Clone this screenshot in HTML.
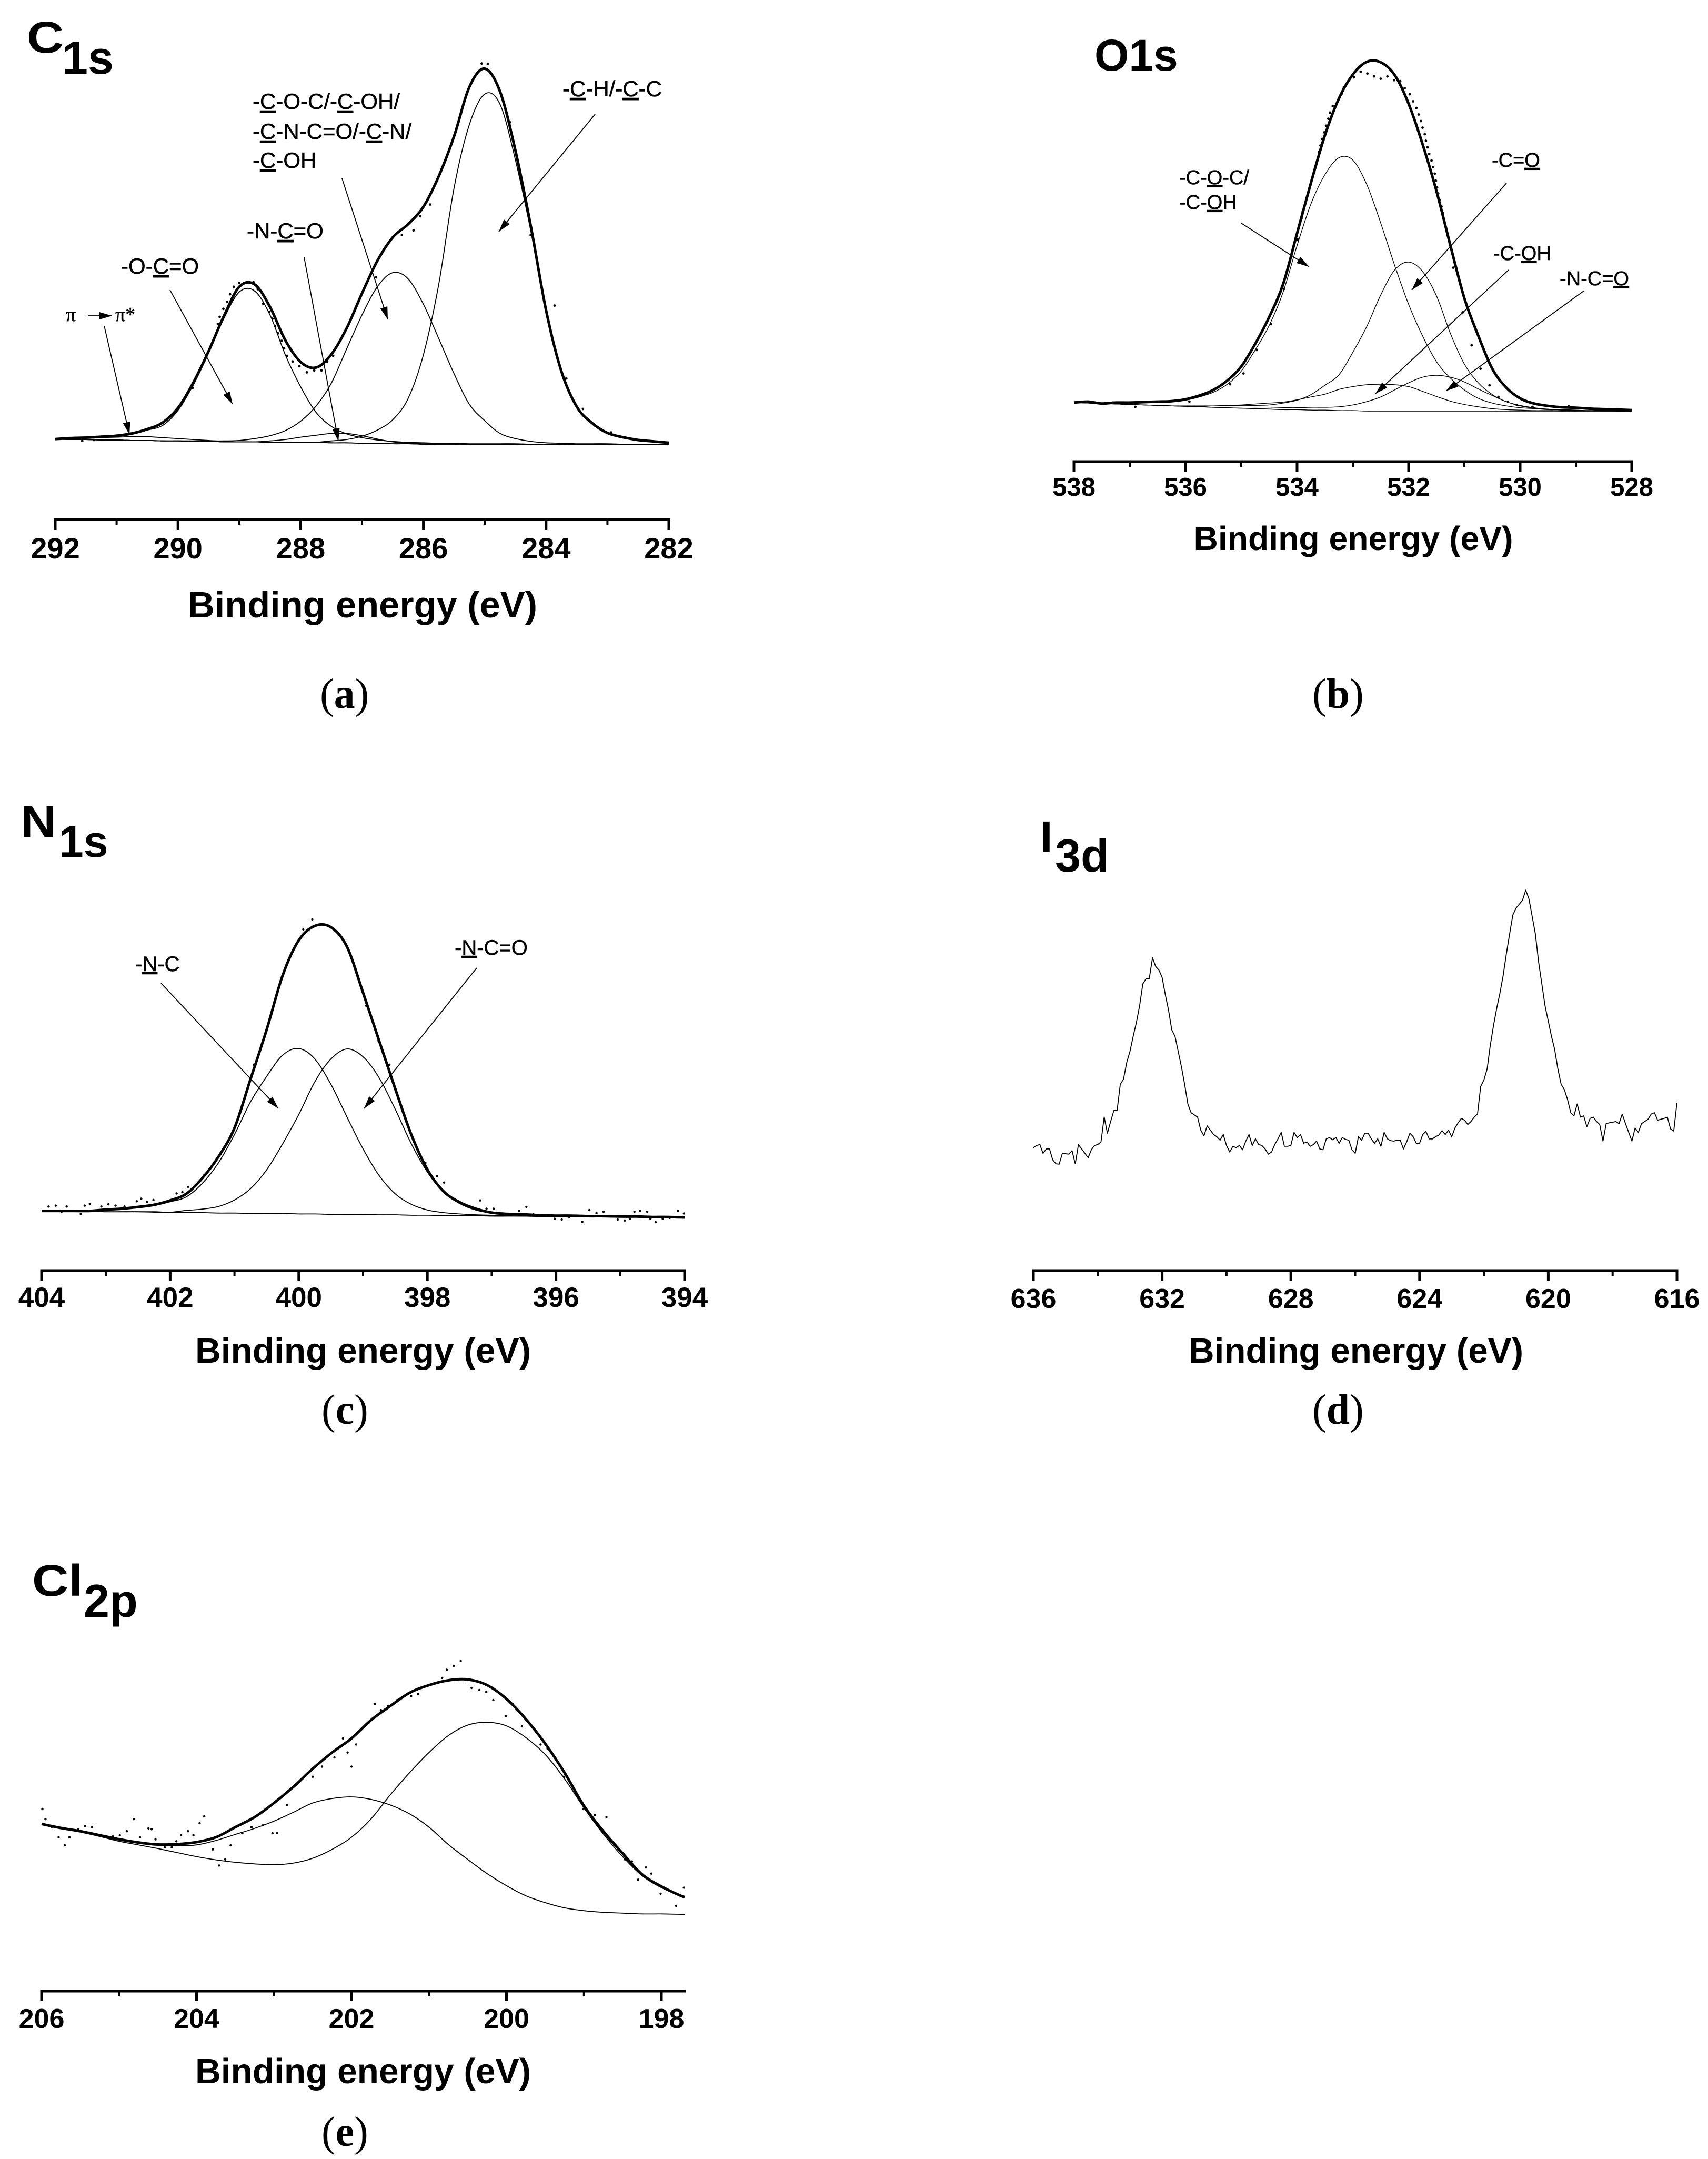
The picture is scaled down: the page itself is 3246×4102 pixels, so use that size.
<!DOCTYPE html>
<html lang="en">
<head>
<meta charset="utf-8">
<title>XPS spectra: C1s, O1s, N1s, I3d, Cl2p</title>
<style>
html,body{margin:0;padding:0;background:#fff;}
svg{display:block;}
text{font-family:"Liberation Sans",Arial,sans-serif;fill:#000;}
.title{font-weight:bold;}
.note{stroke:#000;stroke-width:0.5px;}
.u{text-decoration:underline;}
.cap{font-family:"Liberation Serif",serif;font-size:80px;}
.cap tspan.b{font-weight:bold;}
.xlabel{font-weight:bold;text-anchor:middle;}
.tick{font-weight:bold;text-anchor:middle;}
</style>
</head>
<body>
<svg id="figure" xmlns="http://www.w3.org/2000/svg" width="3246" height="4102" viewBox="0 0 3246 4102">
<rect x="0" y="0" width="3246" height="4102" fill="#fff"/>

<g id="panel-a">
  <text class="title" x="51" y="100" font-size="84" textLength="70" lengthAdjust="spacingAndGlyphs">C</text>
  <text class="title" x="118" y="140" font-size="88">1s</text>
  <text class="note" x="125" y="610" font-size="38" style="font-family:'Liberation Serif',serif">π</text>
  <text class="note" x="219" y="610" font-size="38" style="font-family:'Liberation Serif',serif">π*</text>
  <text class="note" x="230" y="520" font-size="42">-O-<tspan class="u">C</tspan>=O</text>
  <text class="note" x="469" y="453" font-size="42">-N-<tspan class="u">C</tspan>=O</text>
  <text class="note" x="480" y="207" font-size="42">-<tspan class="u">C</tspan>-O-C/-<tspan class="u">C</tspan>-OH/</text>
  <text class="note" x="480" y="264" font-size="42">-<tspan class="u">C</tspan>-N-C=O/-<tspan class="u">C</tspan>-N/</text>
  <text class="note" x="480" y="319" font-size="42">-<tspan class="u">C</tspan>-OH</text>
  <text class="note" x="1069" y="183" font-size="42">-<tspan class="u">C</tspan>-H/-<tspan class="u">C</tspan>-C</text>
  <text class="xlabel" x="689" y="1173" font-size="70" textLength="664" lengthAdjust="spacingAndGlyphs">Binding energy (eV)</text>
  <text class="cap" x="608" y="1345">(<tspan class="b">a</tspan>)</text>
</g>

<g id="panel-b">
  <text class="title" x="2080" y="134" font-size="84">O1s</text>
  <text class="note" x="2241" y="350" font-size="38">-C-<tspan class="u">O</tspan>-C/</text>
  <text class="note" x="2241" y="397" font-size="38">-C-<tspan class="u">O</tspan>H</text>
  <text class="note" x="2835" y="317" font-size="38">-C=<tspan class="u">O</tspan></text>
  <text class="note" x="2838" y="494" font-size="38">-C-<tspan class="u">O</tspan>H</text>
  <text class="note" x="2964" y="542" font-size="38">-N-C=<tspan class="u">O</tspan></text>
  <text class="xlabel" x="2572" y="1045" font-size="64" textLength="607" lengthAdjust="spacingAndGlyphs">Binding energy (eV)</text>
  <text class="cap" x="2494" y="1345">(<tspan class="b">b</tspan>)</text>
</g>

<g id="panel-c">
  <text class="title" x="39" y="1590" font-size="84" textLength="68" lengthAdjust="spacingAndGlyphs">N</text>
  <text class="title" x="112" y="1628" font-size="84">1s</text>
  <text class="note" x="257" y="1845" font-size="40">-<tspan class="u">N</tspan>-C</text>
  <text class="note" x="864" y="1814" font-size="40">-<tspan class="u">N</tspan>-C=O</text>
  <text class="xlabel" x="690" y="2589" font-size="67" textLength="638" lengthAdjust="spacingAndGlyphs">Binding energy (eV)</text>
  <text class="cap" x="611" y="2705">(<tspan class="b">c</tspan>)</text>
</g>

<g id="panel-d">
  <text class="title" x="1977" y="1619" font-size="84">I</text>
  <text class="title" x="2005" y="1656" font-size="88">3d</text>
  <text class="xlabel" x="2577" y="2589" font-size="67" textLength="636" lengthAdjust="spacingAndGlyphs">Binding energy (eV)</text>
  <text class="cap" x="2494" y="2705">(<tspan class="b">d</tspan>)</text>
</g>

<g id="panel-e">
  <text class="title" x="61" y="3032" font-size="84" textLength="96" lengthAdjust="spacingAndGlyphs">Cl</text>
  <text class="title" x="159" y="3072" font-size="88">2p</text>
  <text class="xlabel" x="690" y="3958" font-size="67" textLength="638" lengthAdjust="spacingAndGlyphs">Binding energy (eV)</text>
  <text class="cap" x="611" y="4077">(<tspan class="b">e</tspan>)</text>
</g>
</svg>

<script>
// ---------- Panel (a) C1s ----------
const aEnergies=[292,291.75,291.5,291.25,291,290.75,290.5,290.25,290,289.75,289.5,289.25,289,288.75,288.5,288.25,288,287.75,287.5,287.25,287,286.75,286.5,286.25,286,285.75,285.5,285.25,285,284.75,284.5,284.25,284,283.75,283.5,283.25,283,282.75,282.5,282.25,282];
const aEnvelope=[11,13,14,16,18,23,32,46,77,131,198,273,335,340,292,221,175,163,191,247,321,390,440,468,505,570,655,760,799,750,625,465,285,155,80,45,24,15,9,6,3];
const aPeakCH=[11,10,10,9,9,8,8,7,7,6,6,5,5,5,4,4,4,4,7,10,17,30,52,97,190,340,545,680,745,723,605,455,285,152,77,43,23,13,8,5,2];
const aPeakCO=[11,10,10,9,9,8,8,7,7,7,7,7,8,12,18,29,49,81,130,203,275,335,365,352,298,225,150,85,50,23,12,6,3,2,1,1,1,0,0,0,0];
const aPeakOCO=[11,12,13,15,17,21,30,40,72,126,194,268,324,326,275,190,122,68,38,22,14,9,6,4,3,2,2,1,1,1,1,0,0,0,0,0,0,0,0,0,0];
const aPeakNCO=[11,10,10,9,9,8,8,7,7,6,6,5,5,5,7,10,15,19,23,23,18,11,5,2,1,1,1,0,0,0,0,0,0,0,0,0,0,0,0,0,0];
const aPeakPi=[11,12,13,14,15,16,16,14,12,10,8,6,5,5,4,4,4,4,3,3,2,2,1,1,0,0,0,0,0,0,0,0,0,0,0,0,0,0,0,0,0];
const aBaseline=[11,10,10,9,9,8,8,7,7,6,6,5,5,5,4,4,4,4,3,3,2,2,1,1,0,0,0,0,0,0,0,0,0,0,0,0,0,0,0,0,0];
const aDotEnergies=[291.56,291.37,289.95,289.76,289.57,289.35,289.32,289.26,289.2,289.15,289.09,289,288.77,288.7,288.61,288.51,288.46,288.42,288.37,288.31,288.27,288.22,288.13,288.02,287.9,287.78,287.66,287.57,287.47,286.77,286.35,286.16,286.05,285.89,285.05,284.95,284.77,284.59,284.25,283.86,283.67,283.4,283.21,282.94];
const aDotValues=[7,9,83,120,177,256,271,288,303,319,335,343,345,330,299,282,267,251,236,220,204,188,176,166,153,157,157,175,188,355,445,455,485,510,810,809,755,685,445,295,140,75,40,25];
const aMajorTicks=[292,290,288,286,284,282];
const aMinorTicks=[291,289,287,285,283];

// ---------- Panel (b) O1s ----------
const bEnergies=[538,537.75,537.5,537.25,537,536.75,536.5,536.25,536,535.75,535.5,535.25,535,534.75,534.5,534.25,534,533.75,533.5,533.25,533,532.75,532.5,532.25,532,531.75,531.5,531.25,531,530.75,530.5,530.25,530,529.75,529.5,529.25,529,528.75,528.5,528.25,528];
const bEnvelope=[18,20,16,18,18,19,20,21,25,33,45,65,95,143,200,270,378,486,587,665,716,743,742,715,654,568,468,352,240,160,90,50,27,16,11,8,7,5,4,3,2];
const bPeakCOC=[18,18,17,17,17,18,19,20,23,30,40,57,85,130,182,253,352,441,503,539,534,482,400,310,227,160,105,70,45,27,17,11,7,5,3,2,1,1,1,0,0];
const bPeakCdO=[18,17,16,15,14,13,12,11,11,11,11,11,12,12,13,17,23,35,55,77,125,180,247,300,317,297,245,165,100,60,35,20,11,6,4,2,1,1,0,0,0];
const bPeakCOH=[18,17,16,15,14,13,12,11,10,10,11,12,13,15,17,19,24,30,36,46,52,56,57,56,52,42,31,21,14,9,5,3,2,1,1,0,0,0,0,0,0];
const bPeakNCO=[18,17,16,15,14,13,12,11,10,9,8,7,6,6,6,7,7,8,8,9,13,20,30,45,60,72,76,72,62,47,33,20,12,7,4,3,2,1,1,0,0];
const bBaseline=[18,17,16,15,14,13,12,11,10,9,8,7,6,5,4,3,3,2,2,1,1,0,0,0,0,0,0,0,0,0,0,0,0,0,0,0,0,0,0,0,0];
const bDotEnergies=[537.3,537.14,536.9,535.93,535.52,535.2,534.96,534.72,534.47,534.23,533.99,533.92,533.9,533.86,533.83,533.79,533.76,533.73,533.69,533.66,533.63,533.61,533.58,533.55,533.51,533.48,533.44,533.41,533.36,533.27,533.2,533.16,533.07,532.98,532.86,532.74,532.62,532.5,532.38,532.26,532.15,532.07,531.98,531.92,531.86,531.82,531.78,531.75,531.71,531.69,531.66,531.63,531.59,531.56,531.53,531.51,531.49,531.47,531.44,531.41,531.38,531.36,531.2,531.03,530.87,530.71,530.55,530.39,530.22,530.06,529.78,529.13];
const bDotValues=[18,16,9,20,43,57,80,130,185,260,365,410,424,438,453,467,481,495,509,523,537,551,565,579,593,607,622,635,649,661,675,689,704,710,722,718,712,707,712,704,702,687,674,659,645,631,617,603,589,575,561,547,533,519,505,490,476,463,449,435,421,407,305,210,140,90,55,30,20,13,9,10];
const bMajorTicks=[538,536,534,532,530,528];
const bMinorTicks=[537,535,533,531,529];

// ---------- Panel (c) N1s ----------
const cEnergies=[404,403.75,403.5,403.25,403,402.75,402.5,402.25,402,401.75,401.5,401.25,401,400.75,400.5,400.25,400,399.75,399.5,399.25,399,398.75,398.5,398.25,398,397.75,397.5,397.25,397,396.75,396.5,396.25,396,395.75,395.5,395.25,395,394.75,394.5,394.25,394];
const cEnvelope=[15,15,15,15,18,20,24,29,39,54,90,139,205,317,430,555,635,668,665,620,515,405,295,190,110,60,35,20,11,8,7,5,4,4,3,3,2,2,1,1,0];
const cPeakNC=[15,15,15,15,17,19,22,27,36,47,78,125,190,265,323,372,387,363,305,230,157,96,54,30,17,11,8,6,5,4,3,3,3,2,2,2,1,1,1,1,0];
const cPeakNCO=[15,15,14,14,13,13,13,13,12,16,19,25,40,66,109,169,236,311,363,386,368,320,248,169,104,58,32,17,10,7,6,5,4,4,3,3,2,2,1,1,0];
const cBaseline=[15,15,14,14,13,13,13,12,12,11,11,10,10,9,9,9,8,8,7,7,7,6,6,5,5,4,4,4,3,3,3,2,2,2,2,1,1,1,1,0,0];
const cDotEnergies=[403.89,403.78,403.69,403.61,403.39,403.33,403.25,403.07,402.96,402.85,402.71,402.52,402.45,402.36,402.26,401.9,401.81,401.72,401.61,401.47,401.21,400.92,400.7,399.93,399.79,399.47,399.37,399.09,398.95,398.76,398.59,398.03,397.85,397.74,397.37,397.18,397.08,396.97,396.57,396.46,396.35,396.02,395.91,395.8,395.59,395.48,395.37,395.26,395.04,394.93,394.85,394.78,394.69,394.58,394.53,394.45,394.34,394.23,394.1,394.01];
const cDotValues=[25,27,13,25,8,27,31,25,30,27,25,37,43,35,40,55,58,70,73,97,145,240,350,660,683,663,650,555,485,405,350,125,95,80,25,39,20,20,15,24,7,-3,-5,0,-10,17,10,13,-5,-7,-3,13,15,13,-3,-11,-3,-1,15,9];
const cMajorTicks=[404,402,400,398,396,394];
const cMinorTicks=[403,401,399,397,395];

// ---------- Panel (d) I3d ----------
const dEnergies=[636,635.9,635.8,635.7,635.6,635.5,635.4,635.3,635.2,635.1,
635,634.9,634.8,634.7,634.6,634.5,634.4,634.3,634.2,634.1,
634,633.9,633.8,633.7,633.6,633.5,633.4,633.3,633.2,633.1,
633,632.9,632.8,632.7,632.6,632.5,632.4,632.3,632.2,632.1,
632,631.9,631.8,631.7,631.6,631.5,631.4,631.3,631.2,631.1,
631,630.9,630.8,630.7,630.6,630.5,630.4,630.3,630.2,630.1,
630,629.9,629.8,629.7,629.6,629.5,629.4,629.3,629.2,629.1,
629,628.9,628.8,628.7,628.6,628.5,628.4,628.3,628.2,628.1,
628,627.9,627.8,627.7,627.6,627.5,627.4,627.3,627.2,627.1,
627,626.9,626.8,626.7,626.6,626.5,626.4,626.3,626.2,626.1,
626,625.9,625.8,625.7,625.6,625.5,625.4,625.3,625.2,625.1,
625,624.9,624.8,624.7,624.6,624.5,624.4,624.3,624.2,624.1,
624,623.9,623.8,623.7,623.6,623.5,623.4,623.3,623.2,623.1,
623,622.9,622.8,622.7,622.6,622.5,622.4,622.3,622.2,622.1,
622,621.9,621.8,621.7,621.6,621.5,621.4,621.3,621.2,621.1,
621,620.9,620.8,620.7,620.6,620.5,620.4,620.3,620.2,620.1,
620,619.9,619.8,619.7,619.6,619.5,619.4,619.3,619.2,619.1,
619,618.9,618.8,618.7,618.6,618.5,618.4,618.3,618.2,618.1,
618,617.9,617.8,617.7,617.6,617.5,617.4,617.3,617.2,617.1,
617,616.9,616.8,616.7,616.6,616.5,616.4,616.3,616.2,616.1,
616];
const dSpectrum=[55,60,62,42,52,52,27,18,17,42,
41,40,48,18,62,52,42,32,50,60,
62,68,125,88,115,140,140,200,212,250,
275,310,342,380,430,442,442,490,470,462,
445,405,370,325,310,275,240,200,155,135,
130,125,95,82,105,95,85,80,72,85,
60,45,58,55,60,50,70,85,60,75,
62,60,52,40,45,62,75,90,58,58,
60,90,78,85,65,68,58,62,70,52,
50,75,78,73,78,65,78,74,72,50,
42,80,72,88,88,75,65,75,58,90,
75,71,70,72,72,52,68,88,80,65,
65,85,92,75,75,80,84,94,85,95,
80,100,112,122,118,108,115,125,132,195,
210,235,290,335,375,410,450,500,545,588,
604,613,622,645,625,585,545,480,430,380,
345,310,280,235,200,188,165,135,128,155,
125,128,103,122,125,115,108,70,110,112,
113,115,110,132,110,90,70,100,90,110,
115,120,132,135,118,120,122,125,98,93,
158];
const dMajorTicks=[636,632,628,624,620,616];
const dMinorTicks=[634,630,626,622,618];

// ---------- Panel (e) Cl2p ----------
const eEnergies=[206,205.75,205.5,205.25,205,204.75,204.5,204.25,204,203.75,203.5,203.25,203,202.75,202.5,202.25,202,201.75,201.5,201.25,201,200.75,200.5,200.25,200,199.75,199.5,199.25,199,198.75,198.5,198.25,198,197.75,197.7];
const eEnvelope=[263,253,245,235,225,217,212,213,218,230,255,280,315,355,400,440,475,520,555,588,607,619,621,607,573,523,462,390,308,245,190,138,108,85,82];
const ePeakHigh=[263,253,245,235,225,215,211,209,211,222,237,252,270,292,315,326,330,324,310,288,255,212,175,140,110,85,68,55,48,44,42,40,40,39,39];
const ePeakLow=[263,252,243,232,220,211,202,192,182,174,168,164,162,166,178,200,230,275,335,390,440,482,508,515,506,477,435,375,303,238,182,135,105,85,82];
const eDotEnergies=[205.99,205.95,205.87,205.78,205.7,205.64,205.53,205.44,205.35,205.26,205.17,205.08,204.99,204.9,204.81,204.73,204.62,204.58,204.53,204.41,204.32,204.26,204.2,204.11,204.04,203.96,203.9,203.84,203.79,203.71,203.63,203.56,203.5,203.41,203.29,203.14,203.02,202.96,202.83,202.71,202.5,202.38,202.22,202.11,202.05,202,201.94,201.77,201.7,201.62,201.53,201.41,201.23,201.14,200.83,200.77,200.68,200.59,200.53,200.45,200.35,200.26,200.17,200.01,199.92,199.8,199.69,199.56,199.47,199.26,199.09,199.01,198.86,198.71,198.59,198.47,198.38,198.3,198.2,198.13,198.01,197.81,197.71];
const eDotValues=[300,275,255,230,210,230,250,258,255,235,230,232,235,245,275,230,252,250,225,205,205,220,235,245,235,265,282,225,200,160,175,210,255,240,255,260,240,240,310,360,380,405,428,475,440,405,460,515,560,545,555,570,580,585,625,645,655,667,620,600,595,590,570,530,560,505,510,460,450,380,335,300,285,280,210,175,170,125,155,140,90,60,105];
const eMajorTicks=[206,204,202,200,198];
const eMinorTicks=[205,203,201,199];

// ---------- Drawing ----------
const SVGNS='http://www.w3.org/2000/svg';

function linearScale(d0,d1,r0,r1){
  return function(v){return r0+(v-d0)*(r1-r0)/(d1-d0);};
}

function smoothPath(px,py){
  let d='M'+px[0].toFixed(1)+' '+py[0].toFixed(1);
  for(let i=0;i<px.length-1;i++){
    const i0=Math.max(i-1,0),i3=Math.min(i+2,px.length-1);
    const c1x=px[i]+(px[i+1]-px[i0])/6,c1y=py[i]+(py[i+1]-py[i0])/6;
    const c2x=px[i+1]-(px[i3]-px[i])/6,c2y=py[i+1]-(py[i3]-py[i])/6;
    d+='C'+c1x.toFixed(1)+' '+c1y.toFixed(1)+' '+c2x.toFixed(1)+' '+c2y.toFixed(1)+' '+px[i+1].toFixed(1)+' '+py[i+1].toFixed(1);
  }
  return d;
}

function polyPath(px,py){
  let d='';
  for(let i=0;i<px.length;i++){
    d+=(i?'L':'M')+px[i].toFixed(1)+' '+py[i].toFixed(1);
  }
  return d;
}

function drawCurve(group,name,energies,values,xs,ys,width,jagged){
  const px=energies.map(xs);
  const py=values.map(ys);
  const el=document.createElementNS(SVGNS,'path');
  
  
  el.setAttribute('d',jagged?polyPath(px,py):smoothPath(px,py));
  el.setAttribute('fill','none');
  el.setAttribute('stroke','#000');
  el.setAttribute('stroke-width',width);
  el.setAttribute('stroke-linejoin','round');
  group.appendChild(el);
}

function drawDots(group,name,energies,values,xs,ys,r){
  for(let i=0;i<energies.length;i++){
    const el=document.createElementNS(SVGNS,'circle');
    
    
    el.setAttribute('cx',xs(energies[i]).toFixed(1));
    el.setAttribute('cy',ys(values[i]).toFixed(1));
    el.setAttribute('r',r);
    el.setAttribute('fill','#000');
    group.appendChild(el);
  }
}

function drawSegment(group,name,x1,y1,x2,y2,width){
  const el=document.createElementNS(SVGNS,'line');
  
  
  el.setAttribute('x1',x1);
  el.setAttribute('y1',y1);
  el.setAttribute('x2',x2);
  el.setAttribute('y2',y2);
  el.setAttribute('stroke','#000');
  el.setAttribute('stroke-width',width);
  group.appendChild(el);
}

function drawAxis(group,majors,minors,xs,x0,x1,axisY,majorLen,minorLen,labelY,fontSize){
  drawSegment(group,'x-axis-line',x0-2.5,axisY,x1+2.5,axisY,5);
  majors.forEach(function(v){
    drawSegment(group,'x-major-tick',xs(v),axisY,xs(v),axisY+majorLen,5);
    const t=document.createElementNS(SVGNS,'text');
    
    
    t.setAttribute('class','tick');
    t.setAttribute('x',xs(v));
    t.setAttribute('y',labelY);
    t.setAttribute('font-size',fontSize);
    t.textContent=String(v);
    group.appendChild(t);
  });
  minors.forEach(function(v){
    drawSegment(group,'x-minor-tick',xs(v),axisY,xs(v),axisY+minorLen,4);
  });
}

function drawArrow(group,name,x1,y1,x2,y2){
  drawSegment(group,name,x1,y1,x2,y2,1.8);
  const len=Math.hypot(x2-x1,y2-y1),ux=(x2-x1)/len,uy=(y2-y1)/len;
  const bx=x2-ux*24,by=y2-uy*24;
  const el=document.createElementNS(SVGNS,'polygon');
  
  
  el.setAttribute('points',x2+','+y2+' '+(bx-uy*7).toFixed(1)+','+(by+ux*7).toFixed(1)+' '+(bx+uy*7).toFixed(1)+','+(by-ux*7).toFixed(1));
  el.setAttribute('fill','#000');
  group.appendChild(el);
}

// Panel (a)
(function(){
  const g=document.getElementById('panel-a');
  const xs=linearScale(292,282,105,1271);
  const ys=linearScale(0,1,844,843.107);
  drawCurve(g,'c1s-baseline',aEnergies,aBaseline,xs,ys,1.8);
  drawCurve(g,'c1s-peak-pi',aEnergies,aPeakPi,xs,ys,1.8);
  drawCurve(g,'c1s-peak-n-c-o',aEnergies,aPeakNCO,xs,ys,1.8);
  drawCurve(g,'c1s-peak-o-c-o',aEnergies,aPeakOCO,xs,ys,1.8);
  drawCurve(g,'c1s-peak-c-o',aEnergies,aPeakCO,xs,ys,1.8);
  drawCurve(g,'c1s-peak-c-h',aEnergies,aPeakCH,xs,ys,1.8);
  drawCurve(g,'c1s-envelope',aEnergies,aEnvelope,xs,ys,5);
  drawDots(g,'c1s-data-point',aDotEnergies,aDotValues,xs,ys,2.4);
  drawAxis(g,aMajorTicks,aMinorTicks,xs,105,1271,987,20,10,1061,56);
  drawArrow(g,'arrow-pi-transfer',167,600,213,600);
  drawArrow(g,'arrow-pi-star',198,619,246,826);
  drawArrow(g,'arrow-o-c-o',323,551,442,768);
  drawArrow(g,'arrow-n-c-o',578,489,643,838);
  drawArrow(g,'arrow-c-o-c',650,339,737,607);
  drawArrow(g,'arrow-c-h',1131,217,948,440);
})();

// Panel (b)
(function(){
  const g=document.getElementById('panel-b');
  const xs=linearScale(538,528,2041,3101);
  const ys=linearScale(0,1,781,780.107);
  drawCurve(g,'o1s-baseline',bEnergies,bBaseline,xs,ys,1.4);
  drawCurve(g,'o1s-peak-n-c-o',bEnergies,bPeakNCO,xs,ys,1.4);
  drawCurve(g,'o1s-peak-c-oh',bEnergies,bPeakCOH,xs,ys,1.4);
  drawCurve(g,'o1s-peak-c-double-o',bEnergies,bPeakCdO,xs,ys,1.4);
  drawCurve(g,'o1s-peak-c-o-c',bEnergies,bPeakCOC,xs,ys,1.4);
  drawCurve(g,'o1s-envelope',bEnergies,bEnvelope,xs,ys,5);
  drawDots(g,'o1s-data-point',bDotEnergies,bDotValues,xs,ys,2.4);
  drawAxis(g,bMajorTicks,bMinorTicks,xs,2041,3101,877,19,10,942,49);
  drawArrow(g,'arrow-c-o-c-oxygen',2359,424,2488,507);
  drawArrow(g,'arrow-c-double-o',2863,348,2683,551);
  drawArrow(g,'arrow-c-oh',2867,513,2614,748);
  drawArrow(g,'arrow-n-c-double-o',3011,552,2748,743);
})();

// Panel (c)
(function(){
  const g=document.getElementById('panel-c');
  const xs=linearScale(404,394,79,1301);
  const ys=linearScale(0,1,2313,2312.171);
  drawCurve(g,'n1s-baseline',cEnergies,cBaseline,xs,ys,1.8);
  drawCurve(g,'n1s-peak-n-c',cEnergies,cPeakNC,xs,ys,1.8);
  drawCurve(g,'n1s-peak-n-c-o',cEnergies,cPeakNCO,xs,ys,1.8);
  drawCurve(g,'n1s-envelope',cEnergies,cEnvelope,xs,ys,5);
  drawDots(g,'n1s-data-point',cDotEnergies,cDotValues,xs,ys,2.2);
  drawAxis(g,cMajorTicks,cMinorTicks,xs,79,1301,2414,19,10,2483,53);
  drawArrow(g,'arrow-n-c',306,1868,529,2106);
  drawArrow(g,'arrow-n-c-o-nitrogen',906,1839,692,2106);
})();

// Panel (d)
(function(){
  const g=document.getElementById('panel-d');
  const xs=linearScale(636,616,1964,3187);
  const ys=linearScale(0,1,2226,2225.171);
  drawCurve(g,'i3d-spectrum',dEnergies,dSpectrum,xs,ys,1.8,true);
  drawAxis(g,dMajorTicks,dMinorTicks,xs,1964,3187,2414,19,10,2485,52);
})();

// Panel (e)
(function(){
  const g=document.getElementById('panel-e');
  const xs=linearScale(206,198,79,1257);
  const ys=linearScale(0,1,3667,3666.2334);
  drawCurve(g,'cl2p-peak-high-energy',eEnergies,ePeakHigh,xs,ys,1.8);
  drawCurve(g,'cl2p-peak-low-energy',eEnergies,ePeakLow,xs,ys,1.8);
  drawCurve(g,'cl2p-envelope',eEnergies,eEnvelope,xs,ys,5);
  drawDots(g,'cl2p-data-point',eDotEnergies,eDotValues,xs,ys,2.2);
  drawAxis(g,eMajorTicks,eMinorTicks,xs,79,1301,3783,18,10,3853,52);
})();
</script>
</body>
</html>
